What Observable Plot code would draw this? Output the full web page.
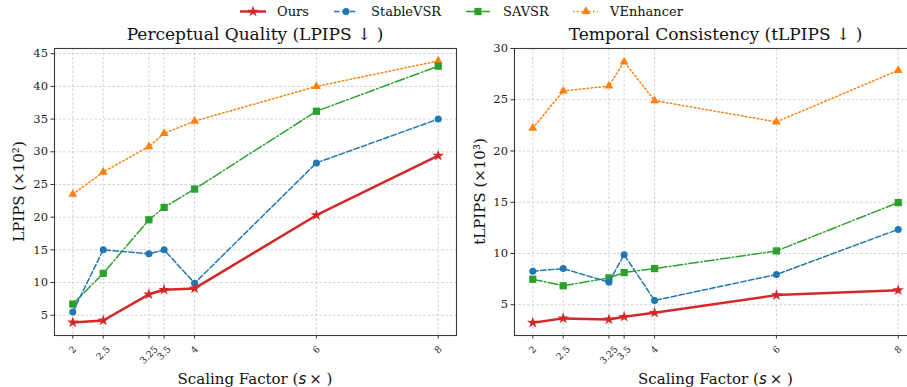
<!DOCTYPE html>
<html>
<head>
<meta charset="utf-8">
<script src="https://cdn.jsdelivr.net/npm/d3@7"></script>
<script src="https://cdn.jsdelivr.net/npm/@observablehq/plot@0.6"></script>
<style>
  html, body { margin: 0; padding: 0; background: #fff; }
  #wrap { position: relative; width: 907px; height: 387px; overflow: hidden; background: #fff; }
  #wrap svg { position: absolute; top: 0; }
</style>
</head>
<body>
<div id="wrap"></div>
<script>
// ---- data ----
const scales = [2, 2.5, 3.25, 3.5, 4, 6, 8];
const tickLabels = ["2", "2.5", "3.25", "3.5", "4", "6", "8"];
const methods = ["Ours", "StableVSR", "SAVSR", "VEnhancer"];

const lpipsOurs      = [3.9, 4.2, 8.2, 8.9, 9.1, 20.3, 29.4];
const lpipsStableVSR = [5.5, 15.0, 14.4, 15.0, 9.9, 28.3, 35.0];
const lpipsSAVSR     = [6.7, 11.4, 19.6, 21.5, 24.3, 36.2, 43.1];
const lpipsVEnhancer = [23.5, 26.9, 30.8, 32.8, 34.7, 40.0, 43.9];

const tlpipsOurs      = [3.25, 3.67, 3.57, 3.83, 4.22, 5.94, 6.42];
const tlpipsStableVSR = [8.27, 8.53, 7.2, 9.89, 5.42, 7.95, 12.35];
const tlpipsSAVSR     = [7.49, 6.85, 7.62, 8.14, 8.53, 10.25, 14.97];
const tlpipsVEnhancer = [22.23, 25.85, 26.34, 28.7, 24.92, 22.84, 27.86];

const lpipsTicks  = [5, 10, 15, 20, 25, 30, 35, 40, 45];
const tlpipsTicks = [5, 10, 15, 20, 25, 30];

// ---- styles per method ----
const styles = {
  Ours:      {color: "#d62728", width: 2.5, dash: null,               symbol: "star",     r: 3.6},
  StableVSR: {color: "#1f77b4", width: 1.5, dash: "5.5,2.4",          symbol: "circle",   r: 3.5},
  SAVSR:     {color: "#2ca02c", width: 1.5, dash: "9.6,2.4,1.5,2.4",  symbol: "square",   r: 4.1},
  VEnhancer: {color: "#ff7f0e", width: 1.5, dash: "1.5,2.5",          symbol: "triangle", r: 3.3}
};

function rows(seriesByMethod) {
  const out = [];
  for (const m of methods) seriesByMethod[m].forEach((v, i) => out.push({s: scales[i], v, method: m}));
  return out;
}

const lpipsData = rows({Ours: lpipsOurs, StableVSR: lpipsStableVSR, SAVSR: lpipsSAVSR, VEnhancer: lpipsVEnhancer});
const tlpipsData = rows({Ours: tlpipsOurs, StableVSR: tlpipsStableVSR, SAVSR: tlpipsSAVSR, VEnhancer: tlpipsVEnhancer});

const drawOrder = ["VEnhancer", "SAVSR", "StableVSR", "Ours"];

// measure label widths so rotated labels are centred under ticks (matplotlib ha=center)
const ctx = document.createElement("canvas").getContext("2d");
const xTickFont = 9.3;
ctx.font = `${xTickFont}px 'DejaVu Serif'`;
const lineH = xTickFont * 1.16;

function panel(data, yDomain, yTicks) {
  const marks = [
    Plot.gridX(scales, {stroke: "#b8b8b8", strokeOpacity: 0.8, strokeWidth: 0.8, strokeDasharray: "2.5,2"}),
    Plot.gridY(yTicks, {stroke: "#b8b8b8", strokeOpacity: 0.8, strokeWidth: 0.8, strokeDasharray: "2.5,2"}),
    Plot.axisY(yTicks, {tickSize: 3.5, tickPadding: 3, fontSize: 11.5, label: null, stroke: "#333"}),
    Plot.axisX(scales, {tickSize: 3.5, label: null, stroke: "#333", tickFormat: () => ""})
  ];
  tickLabels.forEach((lab, i) => {
    const w = ctx.measureText(lab).width;
    const half = (w + lineH) * Math.SQRT1_2 / 2;
    marks.push(Plot.text([i], {
      x: j => scales[j], text: j => tickLabels[j],
      frameAnchor: "bottom", dy: 3.5 + 5 + half,
      rotate: -45, textAnchor: "middle", lineAnchor: "middle",
      fontSize: xTickFont, fill: "#222"
    }));
  });
  for (const m of drawOrder) {
    const st = styles[m];
    const sub = data.filter(d => d.method === m);
    marks.push(Plot.line(sub, {x: "s", y: "v", stroke: st.color, strokeWidth: st.width,
      strokeDasharray: st.dash ?? undefined}));
    marks.push(Plot.dot(sub, {x: "s", y: "v", fill: st.color, stroke: "none", symbol: st.symbol, r: st.r}));
  }
  marks.push(Plot.frame({stroke: "#3a3a3a", strokeWidth: 1.1}));
  return Plot.plot({
    width: 460, height: 387,
    marginLeft: 54, marginRight: 4, marginTop: 48, marginBottom: 52,
    x: {type: "linear", domain: [1.7, 8.3], label: null},
    y: {domain: yDomain, label: null},
    style: {fontFamily: "'DejaVu Serif', serif", fontSize: "11px", background: "transparent", color: "#222", overflow: "visible"},
    marks
  });
}

const wrap = document.getElementById("wrap");
const left = panel(lpipsData, [1.9, 45.8], lpipsTicks);
left.style.left = "0px";
wrap.appendChild(left);
const right = panel(tlpipsData, [2.0, 30], tlpipsTicks);
right.style.left = "460px";
wrap.appendChild(right);

// ---- overlay: titles, axis labels, legend ----
const svg = d3.select(wrap).append("svg")
  .attr("width", 907).attr("height", 387)
  .style("left", "0px")
  .style("font-family", "'DejaVu Serif', serif")
  .style("fill", "#111");

const titles = [
  {x: 255, text: "Perceptual Quality (LPIPS ↓ )"},
  {x: 715.5, text: "Temporal Consistency (tLPIPS ↓ )"}
];
svg.selectAll("text.title").data(titles).join("text")
  .attr("class", "title").attr("x", d => d.x).attr("y", 40)
  .attr("text-anchor", "middle").style("font-size", "17px").text(d => d.text);

for (const cx of [255, 715.5]) {
  const t = svg.append("text").attr("x", cx).attr("y", 383.5).attr("text-anchor", "middle").style("font-size", "15px");
  t.append("tspan").text("Scaling Factor (");
  t.append("tspan").style("font-style", "italic").style("font-family", "'DejaVu Sans', sans-serif").text("s");
  t.append("tspan").text("\u2009× )");
}

const yLabels = [
  {x: 24, text: "LPIPS (×10²)"},
  {x: 485, text: "tLPIPS (×10³)"}
];
svg.selectAll("text.ylab").data(yLabels).join("text")
  .attr("class", "ylab")
  .attr("transform", d => `translate(${d.x},191.5) rotate(-90)`)
  .attr("text-anchor", "middle").style("font-size", "15px").text(d => d.text);

// legend
const legendPos = [
  {m: "Ours",      x0: 240, x1: 266, cx: 253, tx: 277},
  {m: "StableVSR", x0: 334, x1: 357, cx: 346, tx: 371},
  {m: "SAVSR",     x0: 466, x1: 490, cx: 478, tx: 503},
  {m: "VEnhancer", x0: 573, x1: 598, cx: 586, tx: 610}
];
const symMap = {star: d3.symbolStar, circle: d3.symbolCircle, square: d3.symbolSquare, triangle: d3.symbolTriangle};
for (const p of legendPos) {
  const st = styles[p.m];
  svg.append("line").attr("x1", p.x0).attr("x2", p.x1).attr("y1", 11.5).attr("y2", 11.5)
    .attr("stroke", st.color).attr("stroke-width", st.width)
    .attr("stroke-dasharray", st.dash);
  svg.append("path")
    .attr("d", d3.symbol(symMap[st.symbol], Math.PI * st.r * st.r)())
    .attr("transform", `translate(${p.cx},11.5)`)
    .attr("fill", st.color);
  svg.append("text").attr("x", p.tx).attr("y", 16).style("font-size", "13px").text(p.m);
}
</script>
</body>
</html>
